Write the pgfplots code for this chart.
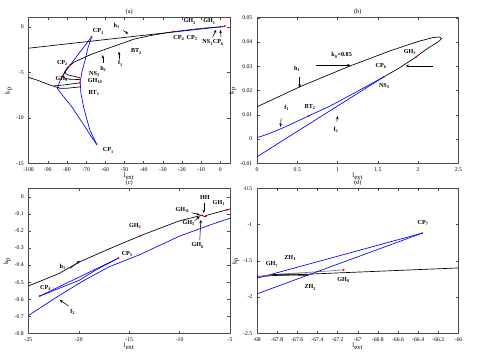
\documentclass[border=0pt]{standalone}
\usepackage{fontspec}
\setmainfont{Liberation Serif}
\usepackage{pgfplots}
\pgfplotsset{compat=1.18}
\usetikzlibrary{arrows.meta}

\definecolor{mblue}{RGB}{0,0,255}
\newcommand{\an}{\fontsize{4.6}{5}\selectfont\bfseries}

\tikzset{arr/.style={-{Stealth[length=2.5pt,width=2pt]}, line width=0.4pt}}
\pgfplotsset{
  panel/.style={
    scale only axis, width=151.1pt,
    axis line style={line width=0.4pt, black!70},
    tick align=inside, major tick length=2pt,
    tick style={line width=0.3pt, black!70},
    tick label style={font=\fontsize{4.3}{5}\selectfont},
    label style={font=\fontsize{5}{6}\selectfont},
    title style={font=\fontsize{4.8}{5}\selectfont, yshift=-7.5pt},
    xlabel style={yshift=6pt},
    ylabel style={yshift=-4pt},
    /pgf/number format/assume math mode=true,
    scaled ticks=false,
    every axis plot/.append style={line width=0.5pt},
    xlabel={l\textsubscript{ext}}, ylabel={k\textsubscript{p}},
  },
  redpt/.style={only marks, mark=*, mark size=0.45pt, red},
}

\begin{document}
\begin{tikzpicture}
\useasboundingbox (0,0) rectangle (358.5pt,267pt);

% ---------------- (a)
\begin{axis}[panel, at={(21.4pt,144.5pt)}, anchor=south west, height=109.2pt,
  title={(a)}, xmin=-100, xmax=5, ymin=-15, ymax=1,
  xtick={-100,-90,...,0}, ytick={-15,-10,-5,0}]
\addplot[black] coordinates {(-100,-2.35) (-67,-1.57) (-40,-0.93) (-20,-0.47) (0,0)};
\addplot[mblue] coordinates {(-67.1,-1.1) (-70,-1.9) (-74,-3.0) (-78.4,-4.23) (-81,-5.0) (-83.5,-5.9) (-85,-6.76) (-82,-7.6) (-77.4,-8.79) (-74,-9.9) (-70.5,-11.0) (-67.5,-12.0) (-64.5,-12.9)};
\addplot[mblue] coordinates {(-67.1,-1.1) (-69,-2.3) (-70.5,-3.64) (-72,-4.8) (-73.1,-6.0) (-72.7,-7.3) (-71.3,-8.8) (-69.7,-10.1) (-67.9,-11.4) (-64.5,-12.9)};
\addplot[black] coordinates {(-78.4,-4.23) (-76,-3.85) (-71.5,-3.42) (-67,-3.0) (-62,-2.62) (-55,-2.1) (-45,-1.35) (-35,-0.9) (-25,-0.55)};
\addplot[mblue] coordinates {(-25,-0.55) (-15,-0.29) (-8,-0.13) (0,0) (2.3,0.08)};
\addplot[black] coordinates {(-78.4,-4.23) (-80,-4.55) (-81,-4.9) (-80.5,-5.15) (-79.2,-5.3) (-76,-5.45) (-73.2,-5.6)};
\addplot[black] coordinates {(-81,-4.9) (-82,-5.35) (-81.5,-5.6) (-79,-5.75) (-73.2,-5.8)};
\addplot[black] coordinates {(-100,-5.55) (-95,-5.9) (-90,-6.3) (-86,-6.6) (-84,-6.7)};
\addplot[black] coordinates {(-87,-6.5) (-80,-6.35) (-73.2,-6.15)};
\addplot[black] coordinates {(-84,-6.75) (-80,-6.75) (-73.2,-6.6)};
\addplot[redpt] coordinates {(-64.5,-12.9) (-67.1,-1.1) (-78.4,-4.23) (-82,-5.35) (-73.2,-5.8) (-73.2,-6.15) (-24.7,-0.52) (2.3,0.08) (0,0)};
\node[font=\an] at (axis cs:-54,0.1) {h\textsubscript{1}};
\draw[arr] (axis cs:-50.6,-0.4) -- (axis cs:-48,-0.77);
\node[font=\an] at (axis cs:-16,0.6) {GH\textsubscript{2}};
\node[font=\an] at (axis cs:-5.7,0.6) {GH\textsubscript{1}};
\node[font=\an] at (axis cs:-21.6,-1.25) {CP\textsubscript{4}};
\node[font=\an] at (axis cs:-14.7,-1.25) {CP\textsubscript{5}};
\node[font=\an] at (axis cs:-6.6,-1.73) {NS\textsubscript{1}};
\node[font=\an] at (axis cs:-1,-1.73) {CP\textsubscript{6}};
\draw[arr] (axis cs:-4,-1.14) -- (axis cs:-2.2,-0.33);
\draw[arr] (axis cs:0.3,-1.14) -- (axis cs:0,-0.33);
\node[font=\an] at (axis cs:-63.6,-0.5) {CP\textsubscript{3}};
\node[font=\an] at (axis cs:-43.7,-2.72) {BT\textsubscript{2}};
\node[font=\an] at (axis cs:-52,-4.0) {f\textsubscript{1}};
\draw[arr] (axis cs:-52.8,-3.55) -- (axis cs:-52.8,-2.72);
\node[font=\an] at (axis cs:-61,-4.6) {h\textsubscript{2}};
\draw[arr] (axis cs:-61.3,-4.0) -- (axis cs:-61.3,-3.1);
\node[font=\an] at (axis cs:-82.3,-3.95) {CP\textsubscript{2}};
\node[font=\an] at (axis cs:-82.7,-5.7) {GH\textsubscript{9}};
\node[font=\an] at (axis cs:-65.6,-5.2) {NS\textsubscript{2}};
\node[font=\an] at (axis cs:-65.3,-5.96) {GH\textsubscript{10}};
\node[font=\an] at (axis cs:-65.8,-7.3) {BT\textsubscript{1}};
\node[font=\an] at (axis cs:-58.4,-13.6) {CP\textsubscript{1}};
\end{axis}

% ---------------- (b)
\begin{axis}[panel, at={(192.75pt,144.5pt)}, anchor=south west, height=109.2pt,
  title={(b)}, xmin=0, xmax=2.5, ymin=-0.01, ymax=0.05,
  xtick={0,0.5,...,2.5}, ytick={-0.01,0,0.01,0.02,0.03,0.04,0.05},
  yticklabel style={/pgf/number format/fixed, /pgf/number format/precision=2},
  xticklabel style={/pgf/number format/fixed}]
\addplot[black] coordinates {(0,0.0133) (0.535,0.0216) (1.153,0.0301) (1.647,0.0363) (2.018,0.0404) (2.183,0.0418) (2.265,0.0421) (2.29,0.0414) (2.245,0.0400) (2.1,0.0370) (1.977,0.0339) (1.771,0.0294) (1.577,0.0257)};
\addplot[mblue] coordinates {(1.577,0.0257) (1.236,0.0195) (0.9,0.0135) (0.638,0.0095) (0.33,0.0047) (0.124,0.0019) (0,0.0006)};
\addplot[mblue] coordinates {(1.577,0.0257) (0,-0.0073)};
\addplot[redpt] coordinates {(1.577,0.0257) (1.977,0.0339) (0.638,0.0095)};
\node[font=\an] at (axis cs:1.05,0.0345) {k\textsubscript{0}=0.85};
\draw[arr] (axis cs:0.73,0.0304) -- (axis cs:1.16,0.0304);
\draw[arr] (axis cs:2.19,0.0301) -- (axis cs:1.845,0.0301);
\node[font=\an] at (axis cs:0.5,0.0290) {h\textsubscript{1}};
\draw[arr] (axis cs:0.53,0.0255) -- (axis cs:0.53,0.0212);
\node[font=\an] at (axis cs:0.37,0.0130) {f\textsubscript{1}};
\draw[arr] (axis cs:0.3,0.0085) -- (axis cs:0.29,0.0050);
\node[font=\an] at (axis cs:0.66,0.0133) {BT\textsubscript{2}};
\node[font=\an] at (axis cs:1.54,0.0300) {CP\textsubscript{6}};
\node[font=\an] at (axis cs:1.9,0.0360) {GH\textsubscript{3}};
\node[font=\an] at (axis cs:1.58,0.0220) {NS\textsubscript{3}};
\node[font=\an] at (axis cs:0.98,0.0038) {f\textsubscript{2}};
\draw[arr] (axis cs:0.99,0.0072) -- (axis cs:1.0,0.0095);
\end{axis}

% ---------------- (c)
\begin{axis}[panel, at={(21.4pt,17pt)}, anchor=south west, height=108.75pt,
  title={(c)}, xmin=-25, xmax=-5, ymin=-0.8, ymax=0.05,
  xtick={-25,-20,...,-5}, ytick={-0.8,-0.7,...,0},
  yticklabel style={/pgf/number format/fixed, /pgf/number format/precision=1}]
\addplot[black] coordinates {(-25,-0.522) (-22,-0.45) (-19.9,-0.38) (-17,-0.305) (-13.9,-0.228) (-12,-0.185) (-10,-0.14) (-8.2,-0.114) (-7.8,-0.108) (-7.5,-0.116) (-7.3,-0.108) (-6.5,-0.095) (-5,-0.071)};
\addplot[mblue] coordinates {(-25,-0.695) (-22,-0.58) (-19.5,-0.49) (-17,-0.41) (-14,-0.34) (-10,-0.23) (-7,-0.165) (-5,-0.125)};
\addplot[mblue] coordinates {(-23.9,-0.582) (-16.07,-0.359)};
\addplot[mblue] coordinates {(-23.9,-0.582) (-21.5,-0.525) (-20,-0.49) (-18.5,-0.435) (-16.07,-0.359)};
\addplot[redpt] coordinates {(-23.9,-0.582) (-16.07,-0.359) (-13.9,-0.228) (-7.8,-0.108) (-7.4,-0.113) (-5.3,-0.076)};
\node[font=\an] at (axis cs:-21.6,-0.41) {h\textsubscript{1}};
\draw[arr] (axis cs:-20.9,-0.42) -- (axis cs:-19.9,-0.375);
\node[font=\an] at (axis cs:-23.3,-0.535) {CP\textsubscript{4}};
\node[font=\an] at (axis cs:-15.2,-0.335) {CP\textsubscript{5}};
\node[font=\an] at (axis cs:-20.6,-0.675) {f\textsubscript{2}};
\draw[arr] (axis cs:-21.0,-0.64) -- (axis cs:-21.9,-0.605);
\node[font=\an] at (axis cs:-14.4,-0.17) {GH\textsubscript{2}};
\node[font=\an] at (axis cs:-7.5,-0.005) {HH};
\draw[arr] (axis cs:-7.6,-0.035) -- (axis cs:-7.6,-0.095);
\node[font=\an] at (axis cs:-6.1,-0.035) {GH\textsubscript{1}};
\node[font=\an] at (axis cs:-9.7,-0.077) {GH\textsubscript{11}};
\draw[arr] (axis cs:-8.8,-0.093) -- (axis cs:-8.0,-0.105);
\node[font=\an] at (axis cs:-9.1,-0.155) {GH\textsubscript{5}};
\draw[arr] (axis cs:-8.5,-0.14) -- (axis cs:-8.0,-0.115);
\node[font=\an] at (axis cs:-8.2,-0.285) {GH\textsubscript{6}};
\draw[arr] (axis cs:-8.0,-0.255) -- (axis cs:-7.9,-0.135);
\end{axis}

% ---------------- (d)
\begin{axis}[panel, at={(192.75pt,17pt)}, anchor=south west, height=108.75pt,
  title={(d)}, xmin=-68, xmax=-66, ymin=-2.5, ymax=-0.5,
  xtick={-68,-67.8,...,-66}, ytick={-2.5,-2,-1.5,-1,-0.5},
  xticklabel style={/pgf/number format/fixed, /pgf/number format/precision=1},
  yticklabel style={/pgf/number format/fixed, /pgf/number format/precision=1}]
\addplot[black] coordinates {(-68,-1.713) (-66,-1.598)};
\addplot[black] coordinates {(-67.85,-1.692) (-67.49,-1.700)};
\addplot[black] coordinates {(-67.85,-1.692) (-67.6,-1.680) (-67.49,-1.695)};
\addplot[black!55] coordinates {(-67.80,-1.685) (-67.5,-1.660) (-67.14,-1.625)};
\addplot[mblue] coordinates {(-66.36,-1.118) (-68,-1.74)};
\addplot[mblue] coordinates {(-66.36,-1.118) (-68,-1.955)};
\addplot[redpt] coordinates {(-66.36,-1.118) (-67.14,-1.625) (-67.9,-1.707)};
\node[font=\an] at (axis cs:-66.35,-0.98) {CP\textsubscript{7}};
\node[font=\an] at (axis cs:-67.67,-1.46) {ZH\textsubscript{1}};
\node[font=\an] at (axis cs:-67.85,-1.55) {GH\textsubscript{7}};
\node[font=\an] at (axis cs:-67.14,-1.76) {GH\textsubscript{8}};
\node[font=\an] at (axis cs:-67.47,-1.87) {ZH\textsubscript{2}};
\end{axis}
\end{tikzpicture}
\end{document}
